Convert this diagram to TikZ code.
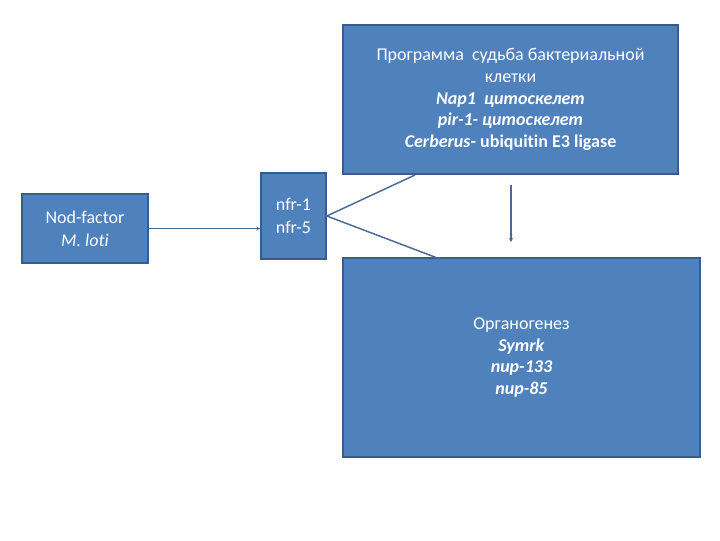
\documentclass[tikz,border=0pt]{standalone}
\usepackage{fontspec}
\setmainfont[Ligatures=NoCommon]{Carlito}
\usetikzlibrary{arrows.meta}
\definecolor{boxfill}{HTML}{4F81BD}
\definecolor{boxline}{HTML}{385D8A}
\definecolor{conn}{HTML}{4A6A96}
\tikzset{
  box/.style={rectangle, draw=boxline, line width=1.2pt, fill=boxfill, text=white,
    align=center, inner sep=2pt, font=\fontsize{13.5}{16.2}\selectfont},
  conline/.style={draw=conn, line width=1.1pt},
  conarrow/.style={conline, -{Stealth[length=3pt,width=3pt]}}
}
\begin{document}
\begin{tikzpicture}[x=0.75pt,y=-0.75pt]
\useasboundingbox (0,0) rectangle (720,540);
\node[box, minimum width=94.5pt, minimum height=51.75pt] (nod) at (85,228.5)
  {Nod-factor\\[1pt]\textit{M. loti}};
\node[box, minimum width=48.75pt, minimum height=64.5pt] (nfr) at (293.5,216)
  {nfr-1\\[1pt]nfr-5};
\node[box, minimum width=251.25pt, minimum height=111.75pt] (top) at (510.5,99.5)
  {Программа\ \ судьба бактериальной\\клетки\\\textbf{\textit{Nap1\ \ цитоскелет}}\\\textbf{\textit{pir-1- цитоскелет}}\\\textbf{\textit{Cerberus}- ubiquitin E3 ligase}};
\node[box, minimum width=267.75pt, minimum height=149.25pt] (bot) at (521.5,357.5)
  {Органогенез\\\textbf{\textit{Symrk}}\\\textbf{\textit{nup-133}}\\\textbf{\textit{nup-85}}};
\coordinate (t1) at (415,175);
\coordinate (b1) at (440,259);
\coordinate (v1) at (511,185);
\coordinate (v2) at (511,242);
\draw[conarrow] (nod.east) -- (nod.east -| nfr.west);
\draw[conline] (nfr.east) -- (t1);
\draw[conline] (nfr.east) -- (b1);
\draw[conarrow] (v1) -- (v2);
\end{tikzpicture}
\end{document}
